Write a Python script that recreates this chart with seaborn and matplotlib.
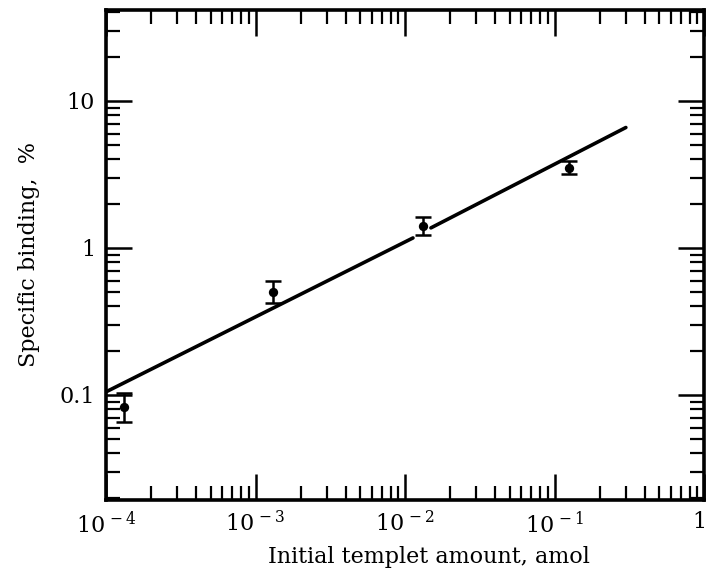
import numpy as np
import pandas as pd
import matplotlib
matplotlib.use("Agg")
import matplotlib.pyplot as plt
import matplotlib.transforms as mtransforms
import seaborn as sns
from matplotlib.ticker import LogLocator, FixedLocator, FixedFormatter, NullFormatter

# Data
amount = [1.32e-4, 1.3e-3, 1.32e-2, 0.124]          # amol
binding = [0.083, 0.50, 1.41, 3.5]                  # %
err_low = [0.065, 0.42, 1.22, 3.2]
err_high = [0.103, 0.60, 1.63, 3.9]

fit_x = [1e-4, 1.13e-2, np.nan, 1.49e-2, 0.30]
fit_y = [0.105, 1.17, np.nan, 1.37, 6.6]

x_ticks = [1e-4, 1e-3, 1e-2, 1e-1, 1]
x_labels = [r"$10^{\,-4}$", r"$10^{\,-3}$", r"$10^{\,-2}$", r"$10^{\,-1}$", "1"]
y_ticks = [0.1, 1, 10]
y_labels = ["0.1", "1", "10"]

sns.set_style("ticks")
plt.rcParams["font.family"] = ["DejaVu Serif"]
plt.rcParams["mathtext.fontset"] = "dejavuserif"

fig = plt.figure(figsize=(7.07, 5.77), dpi=100)
ax = fig.add_axes([0.150, 0.1335, 0.8458, 0.8492])

pts = pd.DataFrame({"amount": amount, "binding": binding})

# fitted line, drawn in pieces (gap as in the original)
segs = []
cur = []
for xv, yv in zip(fit_x, fit_y):
    if np.isnan(xv):
        segs.append(cur); cur = []
    else:
        cur.append((xv, yv))
segs.append(cur)
for s in segs:
    d = pd.DataFrame(s, columns=["x", "y"])
    sns.lineplot(data=d, x="x", y="y", ax=ax, color="black", linewidth=2.6,
                 estimator=None, sort=False)

yerr = np.array([np.array(binding) - np.array(err_low),
                 np.array(err_high) - np.array(binding)])
ax.errorbar(amount, binding, yerr=yerr, fmt="none", ecolor="black",
            elinewidth=1.8, capsize=6, capthick=1.8, zorder=3)
sns.scatterplot(data=pts, x="amount", y="binding", ax=ax, color="black",
                s=45, edgecolor="black", linewidth=0, zorder=4)

ax.set_xscale("log")
ax.set_yscale("log")
ax.set_xlim(1e-4, 1.0)
ax.set_ylim(0.0193, 41.6)

ax.xaxis.set_major_locator(FixedLocator(x_ticks))
ax.xaxis.set_major_formatter(FixedFormatter(x_labels))
ax.yaxis.set_major_locator(FixedLocator(y_ticks))
ax.yaxis.set_major_formatter(FixedFormatter(y_labels))
ax.xaxis.set_minor_locator(LogLocator(base=10, subs=np.arange(2, 10), numticks=20))
ax.yaxis.set_minor_locator(LogLocator(base=10, subs=np.arange(2, 10), numticks=20))
ax.xaxis.set_minor_formatter(NullFormatter())
ax.yaxis.set_minor_formatter(NullFormatter())

ax.tick_params(which="both", direction="in", top=True, right=True,
               color="black", labelsize=16, labelcolor="black")
ax.tick_params(which="major", length=19, width=1.8, pad=8)
ax.tick_params(which="minor", length=10, width=1.6)

for sp in ax.spines.values():
    sp.set_linewidth(2.6)
    sp.set_color("black")

ax.set_xlabel("Initial templet amount, amol", fontsize=16, labelpad=12, color="black")
ax.xaxis.set_label_coords(0.54, -0.093)
ax.set_ylabel("Specific binding,  %", fontsize=16, labelpad=14, color="black")
ax.grid(False)

# keep the right-most "1" inside the figure
fig.canvas.draw()
last = ax.get_xticklabels()[-1]
last.set_transform(last.get_transform() +
                   mtransforms.ScaledTranslation(-5 / 100, 0, fig.dpi_scale_trans))

fig.savefig("out.png", dpi=100)
